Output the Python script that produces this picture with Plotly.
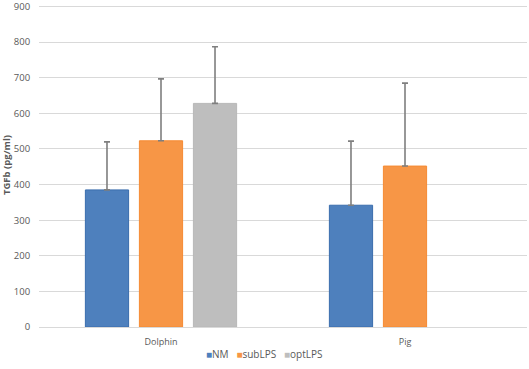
import plotly.graph_objects as go

categories = ["Dolphin", "Pig"]
series = ["NM", "subLPS", "optLPS"]
nm_vals = [385, 342]
sub_vals = [523, 452]
opt_vals = [628, None]
nm_err = [135, 180]
sub_err = [174, 233]
opt_err = [159, None]
y_ticks = [0, 100, 200, 300, 400, 500, 600, 700, 800, 900]

colors = ["#4E80BD", "#F79646", "#BEBEBE"]
lines = ["#3A6DAD", "#F58A33", "#B8B8B8"]

fig = go.Figure()
for name, vals, errs, c, lc in zip(series, [nm_vals, sub_vals, opt_vals],
                                   [nm_err, sub_err, opt_err], colors, lines):
    fig.add_trace(go.Bar(
        x=categories, y=vals, name=name, showlegend=False,
        marker=dict(color=c, line=dict(color=lc, width=1)),
        error_y=dict(type="data", array=errs, symmetric=False, arrayminus=[0, 0],
                     color="#7F7F7F", thickness=1.6, width=3),
    ))

legend_text = "   ".join(
    f"<span style='color:{c}'>■</span>{n}" for n, c in zip(series, colors)
)
fig.add_annotation(text=legend_text, xref="paper", yref="paper", x=0.462, y=-0.083,
                   xanchor="center", yanchor="middle", showarrow=False,
                   font=dict(size=10, color="#595959"))

fig.update_layout(
    width=529, height=369,
    margin=dict(l=39, r=2, t=3, b=42, autoexpand=False),
    barmode="group", bargap=0.336, bargroupgap=0.2,
    plot_bgcolor="white", paper_bgcolor="white",
    font=dict(family="Open Sans, Liberation Sans, sans-serif", size=9, color="#595959"),
    showlegend=False,
    xaxis=dict(showline=True, linecolor="#D9D9D9", linewidth=1, ticks="outside",
               ticklen=6, tickcolor="rgba(0,0,0,0)", automargin=False,
               tickfont=dict(size=9, color="#595959")),
    yaxis=dict(range=[0, 910], tickvals=y_ticks, showgrid=True, gridcolor="#D9D9D9",
               gridwidth=1, zeroline=False, ticks="outside", ticklen=6,
               tickcolor="rgba(0,0,0,0)", automargin=False, ticklabeloverflow="allow",
               tickfont=dict(size=9.5, color="#595959"),
               title=dict(text="<b>TGFb (pg/ml)</b>", font=dict(size=9.5, color="#595959"), standoff=1)),
)

fig.write_html("out.html", config={"displayModeBar": False},
               post_script="document.body.style.margin='0';document.body.style.overflow='hidden';")
